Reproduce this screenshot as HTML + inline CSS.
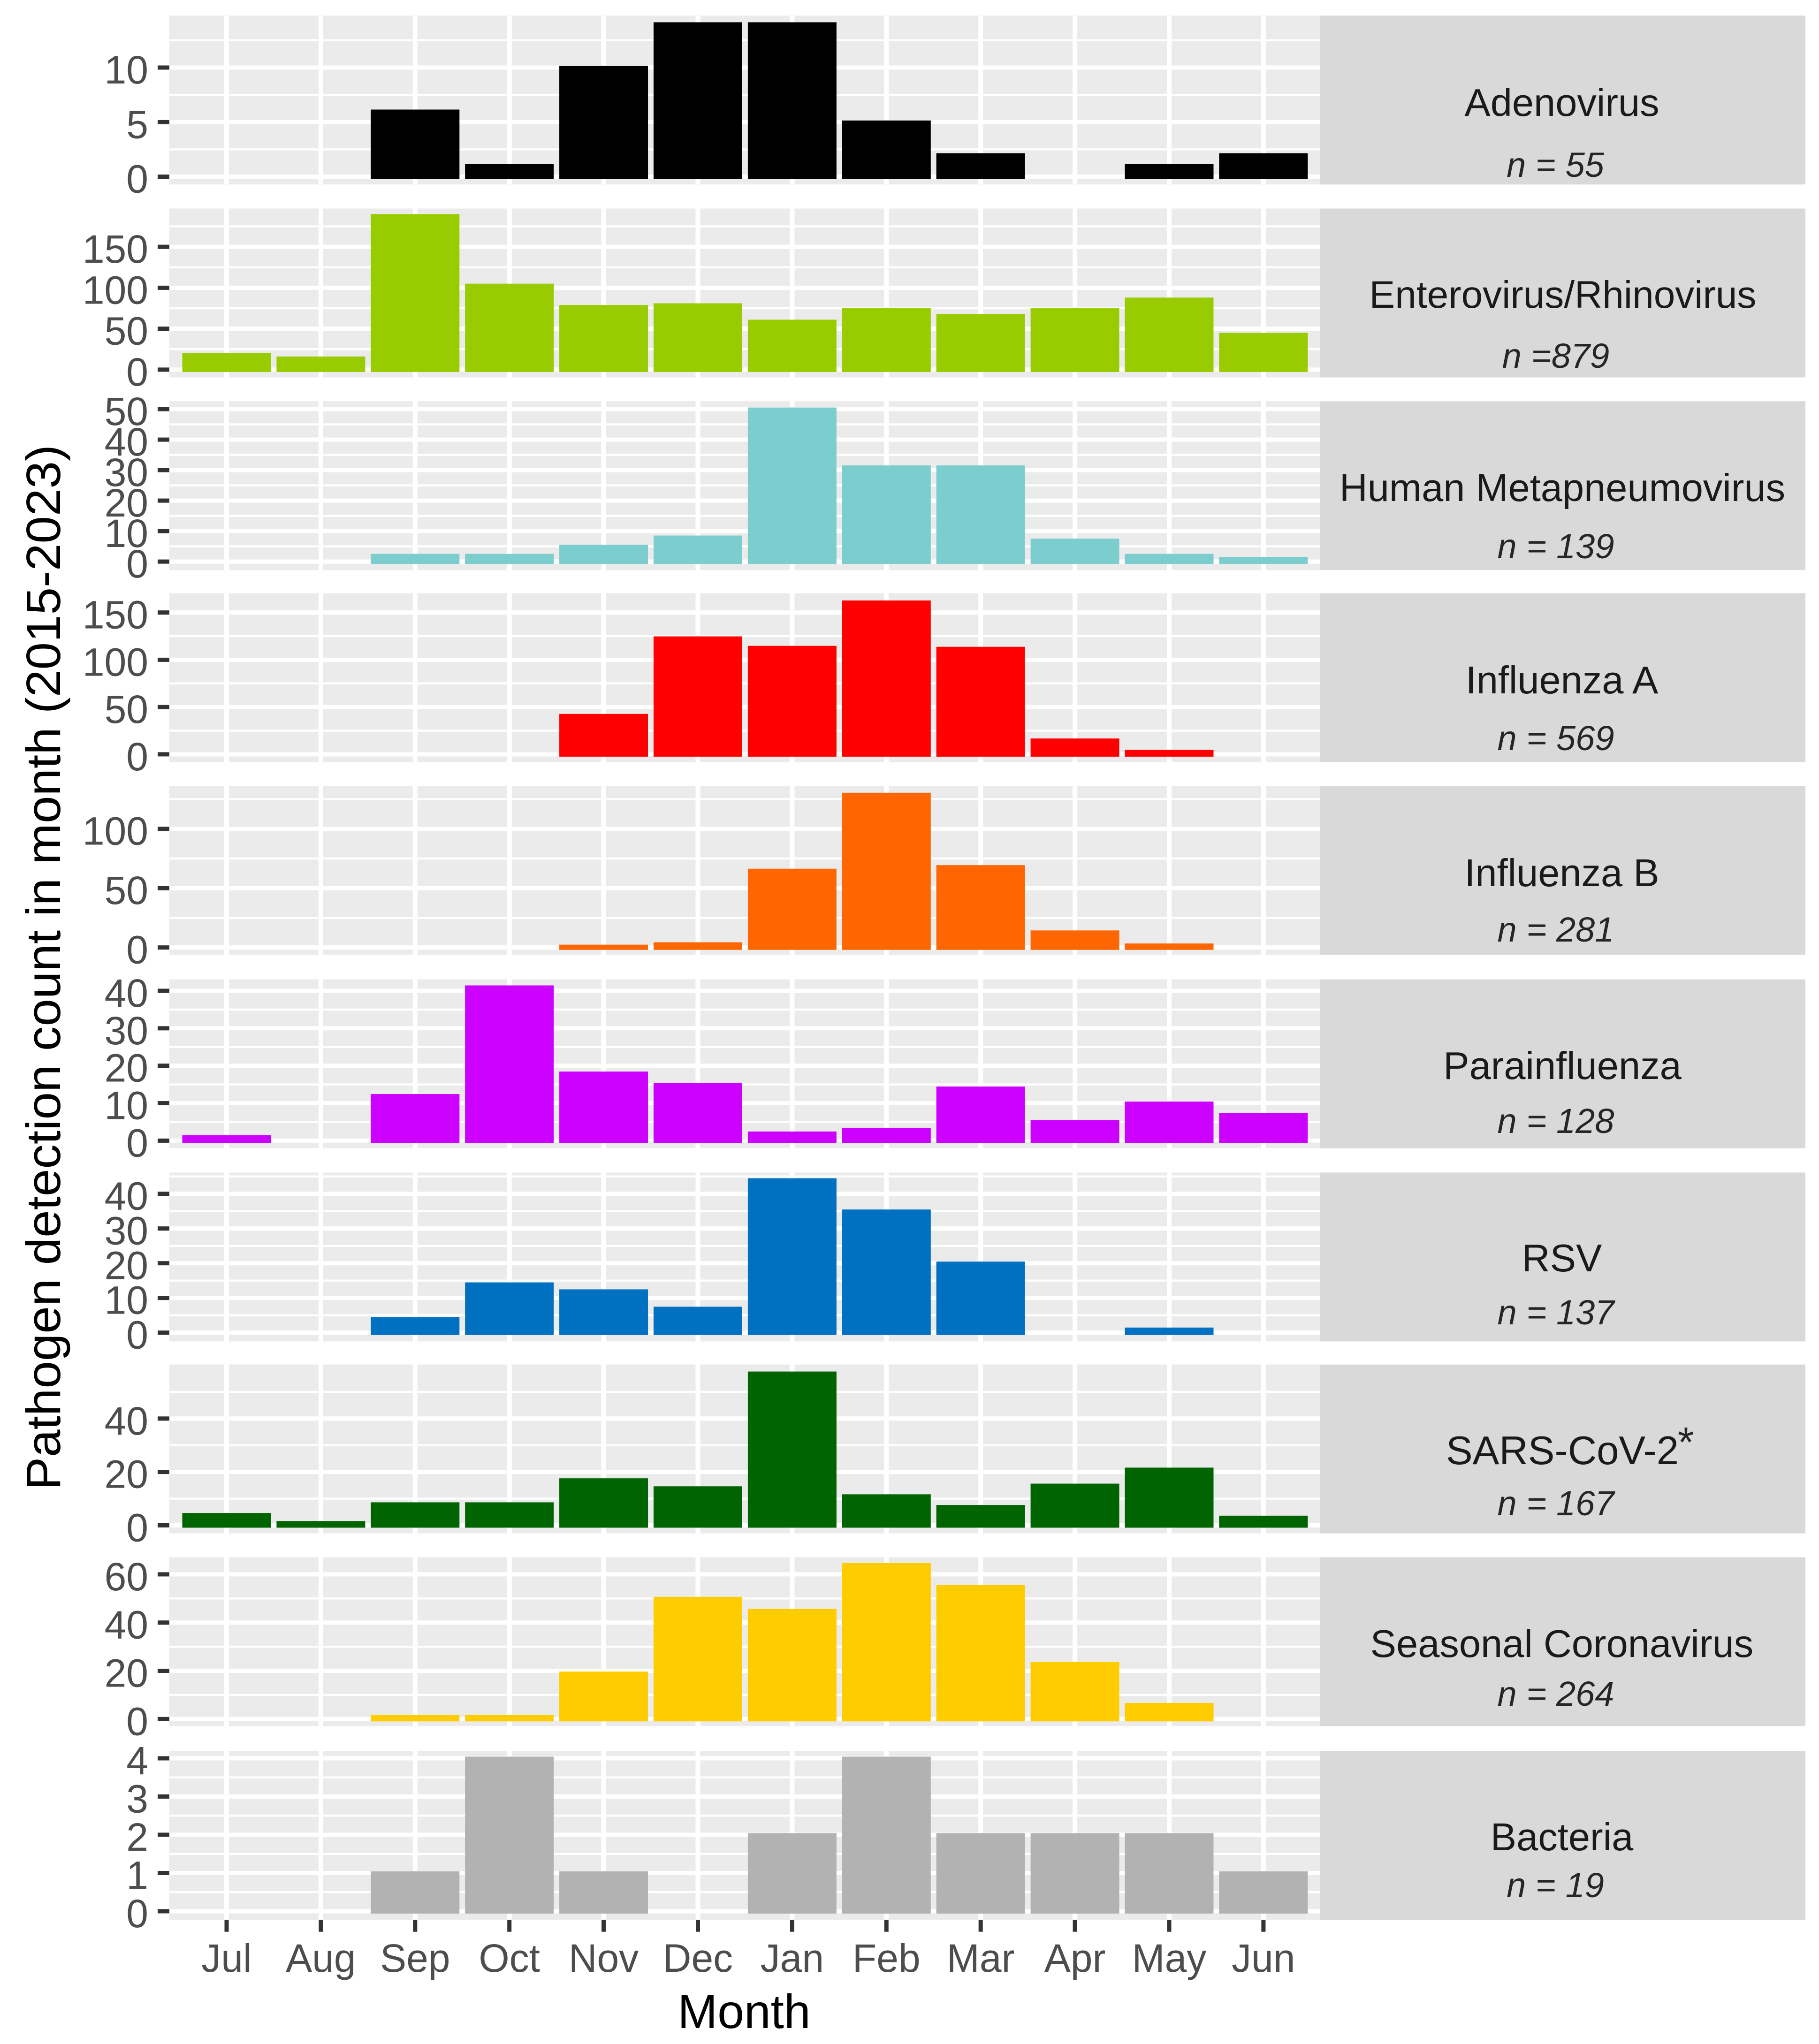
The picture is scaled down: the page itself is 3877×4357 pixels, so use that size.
<!DOCTYPE html>
<html lang="en">
<head>
<meta charset="utf-8">
<title>Pathogen detection count by month</title>
<style>
html,body{margin:0;padding:0;background:#fff;}
svg{display:block;}
text{font-family:"Liberation Sans",Arial,sans-serif;}
.strip-label{font-size:83px;fill:#1a1a1a;text-anchor:middle;}
.strip-n{font-size:74px;font-style:italic;fill:#262626;text-anchor:middle;}
.tick-y{font-size:84px;fill:#4d4d4d;text-anchor:end;}
.tick-x{font-size:84px;fill:#4d4d4d;text-anchor:middle;}
</style>
</head>
<body>
<svg id="chart" xmlns="http://www.w3.org/2000/svg" width="3877" height="4357" viewBox="0 0 3877 4357">
  <rect x="0" y="0" width="3877" height="4357" fill="#ffffff"/>
  <g id="panels"></g>

  <g>
    <g>
      <rect x="2813" y="33.3" width="1035" height="360" fill="#d9d9d9"/>
      <text class="strip-label" x="3329" y="247">Adenovirus</text>
      <text class="strip-n" x="3315" y="377">n = 55</text>
    </g>
    <g>
      <rect x="2813" y="444.5" width="1035" height="360" fill="#d9d9d9"/>
      <text class="strip-label" x="3331" y="656" font-size="82" style="font-size:82px">Enterovirus/Rhinovirus</text>
      <text class="strip-n" x="3316" y="784">n =879</text>
    </g>
    <g>
      <rect x="2813" y="855.3" width="1035" height="360" fill="#d9d9d9"/>
      <text class="strip-label" x="3330" y="1068">Human Metapneumovirus</text>
      <text class="strip-n" x="3316" y="1190">n = 139</text>
    </g>
    <g>
      <rect x="2813" y="1264.5" width="1035" height="360" fill="#d9d9d9"/>
      <text class="strip-label" x="3329" y="1478">Influenza A</text>
      <text class="strip-n" x="3316" y="1599">n = 569</text>
    </g>
    <g>
      <rect x="2813" y="1675.3" width="1035" height="360" fill="#d9d9d9"/>
      <text class="strip-label" x="3329" y="1889">Influenza B</text>
      <text class="strip-n" x="3316" y="2007">n = 281</text>
    </g>
    <g>
      <rect x="2813" y="2087.6" width="1035" height="360" fill="#d9d9d9"/>
      <text class="strip-label" x="3330" y="2300">Parainfluenza</text>
      <text class="strip-n" x="3316" y="2415">n = 128</text>
    </g>
    <g>
      <rect x="2813" y="2499.4" width="1035" height="360" fill="#d9d9d9"/>
      <text class="strip-label" x="3329" y="2710">RSV</text>
      <text class="strip-n" x="3316" y="2823">n = 137</text>
    </g>
    <g>
      <rect x="2813" y="2908.6" width="1035" height="360" fill="#d9d9d9"/>
      <text class="strip-label" x="3330" y="3121" style="font-size:85px">SARS-CoV-2</text>
      <text x="3572" y="3105" font-size="90" font-style="italic" fill="#262626">*</text>
      <text class="strip-n" x="3316" y="3230">n = 167</text>
    </g>
    <g>
      <rect x="2813" y="3319.4" width="1035" height="360" fill="#d9d9d9"/>
      <text class="strip-label" x="3329" y="3532">Seasonal Coronavirus</text>
      <text class="strip-n" x="3316" y="3636">n = 264</text>
    </g>
    <g>
      <rect x="2813" y="3732.7" width="1035" height="360" fill="#d9d9d9"/>
      <text class="strip-label" x="3329" y="3944">Bacteria</text>
      <text class="strip-n" x="3315" y="4044">n = 19</text>
    </g>
  </g>

  <text transform="translate(128,3176) rotate(-90)" x="0" y="0" font-size="103" fill="#000000" textLength="2228" lengthAdjust="spacingAndGlyphs">Pathogen detection count in month (2015-2023)</text>
  <text x="1586" y="4323" font-size="102" fill="#000000" text-anchor="middle">Month</text>
</svg>

<script>
// Categories
const months = ["Jul","Aug","Sep","Oct","Nov","Dec","Jan","Feb","Mar","Apr","May","Jun"];

// Series values: detections per month, Jul through Jun
const adenovirus   = [0,0,6,1,10,14,14,5,2,0,1,2];
const enterovirus  = [18,14,188,103,77,79,59,73,66,73,86,43];
const hmpv         = [0,0,2,2,5,8,50,31,31,7,2,1];
const influenzaA   = [0,0,0,0,41,123,113,161,112,15,3,0];
const influenzaB   = [0,0,0,0,1,3,65,129,68,13,2,0];
const parainfluenza= [1,0,12,41,18,15,2,3,14,5,10,7];
const rsv          = [0,0,4,14,12,7,44,35,20,0,1,0];
const sarsCov2     = [4,1,8,8,17,14,57,11,7,15,21,3];
const seasonalCov  = [0,0,1,1,19,50,45,64,55,23,6,0];
const bacteria     = [0,0,1,4,1,0,2,4,2,2,2,1];

// Y-axis tick labels for each facet
const adenovirusTicks    = [0,5,10];
const enterovirusTicks   = [0,50,100,150];
const hmpvTicks          = [0,10,20,30,40,50];
const influenzaATicks    = [0,50,100,150];
const influenzaBTicks    = [0,50,100];
const parainfluenzaTicks = [0,10,20,30,40];
const rsvTicks           = [0,10,20,30,40];
const sarsCov2Ticks      = [0,20,40];
const seasonalCovTicks   = [0,20,40,60];
const bacteriaTicks      = [0,1,2,3,4];

// Facet definitions: scale geometry is separate from the data above
const facets = [
  {key:"adenovirus",    values:adenovirus,    ticks:adenovirusTicks,    color:"#000000", top:33.3,   zero:376.6,  unit:23.26},
  {key:"enterovirus",   values:enterovirus,   ticks:enterovirusTicks,   color:"#99cc00", top:444.5,  zero:787.9,  unit:1.745},
  {key:"hmpv",          values:hmpv,          ticks:hmpvTicks,          color:"#7ccdcd", top:855.3,  zero:1197.1, unit:6.5},
  {key:"influenza-a",   values:influenzaA,    ticks:influenzaATicks,    color:"#ff0000", top:1264.5, zero:1607.9, unit:2.015},
  {key:"influenza-b",   values:influenzaB,    ticks:influenzaBTicks,    color:"#ff6600", top:1675.3, zero:2019.7, unit:2.53},
  {key:"parainfluenza", values:parainfluenza, ticks:parainfluenzaTicks, color:"#cc00ff", top:2087.6, zero:2431.4, unit:7.985},
  {key:"rsv",           values:rsv,           ticks:rsvTicks,           color:"#0070c0", top:2499.4, zero:2840.7, unit:7.4},
  {key:"sars-cov-2",    values:sarsCov2,      ticks:sarsCov2Ticks,      color:"#006400", top:2908.6, zero:3251.4, unit:5.69},
  {key:"seasonal-cov",  values:seasonalCov,   ticks:seasonalCovTicks,   color:"#ffcc00", top:3319.4, zero:3664.3, unit:5.14},
  {key:"bacteria",      values:bacteria,      ticks:bacteriaTicks,      color:"#b2b2b2", top:3732.7, zero:4074,   unit:81.5}
];

const SVG_NS = "http://www.w3.org/2000/svg";
const plotLeft = 361, plotRight = 2813, panelHeight = 360;
const firstCenter = 483, monthStep = 200.9, barWidth = 189;
const barTopPad = 3.5, barBottomPad = 5;

function xScale(i) { return firstCenter + i * monthStep; }

function make(parent, tag, attrs) {
  const el = document.createElementNS(SVG_NS, tag);
  for (const k in attrs) el.setAttribute(k, attrs[k]);
  parent.appendChild(el);
  return el;
}

const root = document.getElementById("panels");

facets.forEach(function (f, fi) {
  const yScale = function (v) { return f.zero - v * f.unit; };
  const bottom = f.top + panelHeight;

  const group = make(root, "g", {});
  
  

  const bg = make(group, "rect", {x: plotLeft, y: f.top, width: plotRight - plotLeft, height: panelHeight, fill: "#ebebeb"});
  
  

  // minor horizontal gridlines, midway between major ticks and one step beyond the last
  const step = f.ticks[1] - f.ticks[0];
  const minors = f.ticks.map(function (t) { return t + step / 2; });
  minors.forEach(function (m) {
    const y = yScale(m);
    if (y - 2 < f.top || y + 2 > bottom) return;
    const line = make(group, "rect", {x: plotLeft, y: y - 2.2, width: plotRight - plotLeft, height: 4.4, fill: "#ffffff"});
    
    
  });

  // vertical gridlines
  months.forEach(function (m, i) {
    const line = make(group, "rect", {x: xScale(i) - 5, y: f.top, width: 10, height: panelHeight, fill: "#ffffff"});
    
    
  });

  // major gridlines, tick marks and tick labels
  f.ticks.forEach(function (t) {
    const y = yScale(t);
    const line = make(group, "rect", {x: plotLeft, y: y - 4.5, width: plotRight - plotLeft, height: 9, fill: "#ffffff"});
    
    

    const mark = make(group, "rect", {x: plotLeft - 25, y: y - 4.5, width: 25, height: 9, fill: "#333333"});
    
    

    const label = make(group, "text", {"class": "tick-y", x: 316, y: y + 34});
    
    
    label.textContent = String(t);
  });

  // bars
  f.values.forEach(function (v, i) {
    if (v <= 0) return;
    const yTop = yScale(v) - barTopPad;
    const yBottom = yScale(0) + barBottomPad;
    const bar = make(group, "rect", {x: xScale(i) - barWidth / 2, y: yTop, width: barWidth, height: yBottom - yTop, fill: f.color});
    
    
  });
});

// x axis below the last facet
const axisTop = facets[facets.length - 1].top + panelHeight;
const xAxis = make(root, "g", {});


months.forEach(function (m, i) {
  const mark = make(xAxis, "rect", {x: xScale(i) - 4.5, y: axisTop, width: 9, height: 25, fill: "#333333"});
  
  

  const label = make(xAxis, "text", {"class": "tick-x", x: xScale(i), y: 4203});
  
  
  label.textContent = m;
});
</script>
</body>
</html>
